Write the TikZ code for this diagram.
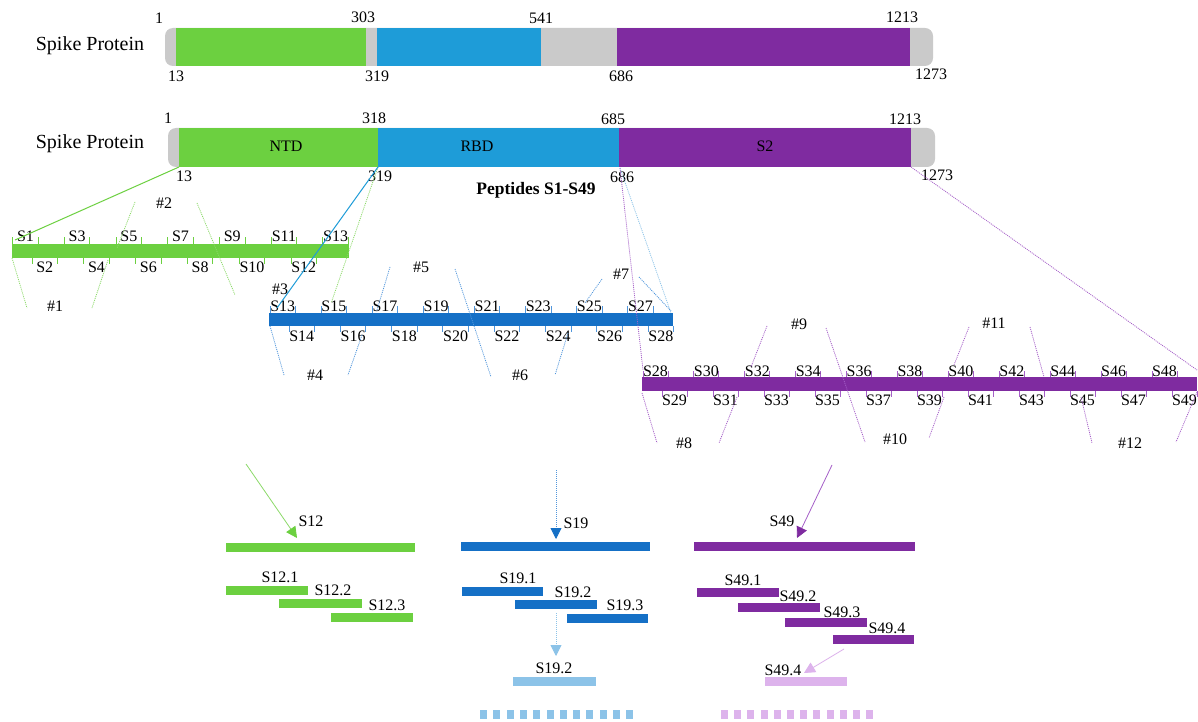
\documentclass[tikz,border=0pt]{standalone}
\usepackage{fontspec}
\setmainfont{Liberation Serif}
\usetikzlibrary{arrows.meta}
\definecolor{grn}{RGB}{108,208,64}
\definecolor{lgrn}{RGB}{140,218,105}
\definecolor{tblue}{RGB}{30,156,216}
\definecolor{pblue}{RGB}{21,112,198}
\definecolor{mblue}{RGB}{80,150,220}
\definecolor{purp}{RGB}{127,43,160}
\definecolor{mpurp}{RGB}{165,95,200}
\definecolor{gry}{RGB}{202,202,202}
\definecolor{lblue}{RGB}{140,195,232}
\definecolor{lpurp}{RGB}{221,179,236}
\begin{document}
\begin{tikzpicture}[x=1pt,y=-1pt,
  lbl/.style={inner sep=0pt,font=\fontsize{16}{16}\selectfont},
  big/.style={inner sep=0pt,font=\fontsize{20}{20}\selectfont},
  bar/.style={inner sep=0pt,anchor=north west,minimum height=#1},
  grp/.style={line width=0.8pt,dash pattern=on 1pt off 1pt},
  tk/.style={line width=0.9pt},
  tip/.style={-{Triangle[length=11pt,width=11pt,color=#1]}}
]
\useasboundingbox (0,0) rectangle (1198,722);
\fill[white] (0,0) rectangle (1198,722);

% ---------- top spike bar ----------
\fill[gry,rounded corners=8pt] (165,28) rectangle (933,66);
\fill[grn] (176,28) rectangle (366,66);
\fill[tblue] (377,28) rectangle (541,66);
\fill[purp] (617,28) rectangle (910,66);
\node[big] (sp1) at (90,46) {Spike Protein};
\node[lbl] (a1) at (159,18) {1};
\node[lbl] (a303) at (363,17) {303};
\node[lbl] (a541) at (541,18) {541};
\node[lbl] (a1213) at (902,17) {1213};
\node[lbl] (a13) at (176,76) {13};
\node[lbl] (a319) at (377,76) {319};
\node[lbl] (a686) at (621,76) {686};
\node[lbl] (a1273) at (931,74) {1273};

% ---------- second spike bar ----------
\fill[gry,rounded corners=8pt] (168,128) rectangle (935,167);
\fill[grn] (179,128) rectangle (378,167);
\fill[tblue] (378,128) rectangle (619,167);
\fill[purp] (619,128) rectangle (911,167);
\node[big] (sp2) at (90,144) {Spike Protein};
\node[lbl] (ntd) at (286,146) {NTD};
\node[lbl] (rbd) at (477,146) {RBD};
\node[lbl] (s2) at (765,146) {S2};
\node[lbl] (b1) at (168,118) {1};
\node[lbl] (b318) at (374,118) {318};
\node[lbl] (b685) at (613,119) {685};
\node[lbl] (b1213) at (905,119) {1213};
\node[lbl] (b13) at (184,176) {13};
\node[lbl] (b319) at (380,176) {319};
\node[lbl] (b686) at (622,177) {686};
\node[lbl] (b1273) at (937,175) {1273};
\node[inner sep=0pt,font=\fontsize{17.5}{18}\selectfont\bfseries] (pep) at (536,190) {Peptides S1-S49};

% ---------- peptide bars ----------
\node[bar=14pt,fill=grn,minimum width=337pt] (gbar) at (12,244) {};
\node[bar=13pt,fill=pblue,minimum width=404pt] (bbar) at (269,313) {};
\node[bar=14pt,fill=purp,minimum width=555pt] (pbar) at (642,377) {};

% green labels
\foreach \k in {0,...,6} {
  \pgfmathsetmacro\xl{12.7+51.7*\k}
  \pgfmathtruncatemacro\n{2*\k+1}
  \draw[tk,grn] (\xl,237) -- (\xl,244) (\xl+25.5,237) -- (\xl+25.5,244);
  \node[lbl] (gS\n) at (\xl+12.75,236) {S\n};
}
\foreach \k in {0,...,5} {
  \pgfmathsetmacro\xl{32+51.8*\k}
  \pgfmathtruncatemacro\n{2*\k+2}
  \draw[tk,grn] (\xl,258) -- (\xl,264) (\xl+25.5,258) -- (\xl+25.5,264);
  \node[lbl] (gS\n) at (\xl+12.75,267) {S\n};
}
% blue labels
\foreach \k in {0,...,7} {
  \pgfmathsetmacro\xl{270+51.1*\k}
  \pgfmathtruncatemacro\n{2*\k+13}
  \draw[tk,mblue] (\xl,306) -- (\xl,313) (\xl+25.5,306) -- (\xl+25.5,313);
  \node[lbl] (bS\n) at (\xl+12.75,306) {S\n};
}
\foreach \k in {0,...,7} {
  \pgfmathsetmacro\xl{289+51.3*\k}
  \pgfmathtruncatemacro\n{2*\k+14}
  \draw[tk,mblue] (\xl,326) -- (\xl,332) (\xl+25.5,326) -- (\xl+25.5,332);
  \node[lbl] (bS\n) at (\xl+12.75,336) {S\n};
}
% purple labels
\foreach \k in {0,...,10} {
  \pgfmathsetmacro\xl{643+50.9*\k}
  \pgfmathtruncatemacro\n{2*\k+28}
  \draw[tk,mpurp] (\xl,371) -- (\xl,377) (\xl+25,371) -- (\xl+25,377);
  \node[lbl] (pS\n) at (\xl+12.5,371) {S\n};
}
\foreach \k in {0,...,10} {
  \pgfmathsetmacro\xl{662+51*\k}
  \pgfmathtruncatemacro\n{2*\k+29}
  \draw[tk,mpurp] (\xl,391) -- (\xl,397) (\xl+25,391) -- (\xl+25,397);
  \node[lbl] (pS\n) at (\xl+12.5,400) {S\n};
}

% ---------- connectors from spike bar ----------
\coordinate (c13) at (179,167);
\coordinate (c319) at (378,167);
\coordinate (c686) at (620,168);
\coordinate (c1273) at (911,167);
\coordinate (eS1) at (15,240);
\coordinate (eS13b) at (277,308);
\coordinate (eS15) at (331.5,302);
\coordinate (eS28b) at (671,313);
\coordinate (eS28p) at (643,370);
\coordinate (eS49) at (1197,370);
\draw[grn,line width=1pt] (c13) -- (eS1);
\draw[lgrn,grp] (c319) -- (eS15);
\draw[tblue,line width=1pt] (c319) -- (eS13b);
\draw[lblue,grp] (c686) -- (eS28b);
\draw[mpurp,grp] (c686) -- (eS28p);
\draw[mpurp,grp] (c1273) -- (eS49);

% ---------- group brackets ----------
\foreach \a/\b/\c/\d in {12/258/27/308, 108/260/92/308, 135/202/117/248, 197/203/235/295}
  \draw[lgrn,grp] (\a,\b) -- (\c,\d);
\node[lbl] (h1) at (55,306) {\#1};
\node[lbl] (h2) at (164,203) {\#2};
\node[lbl] (h3) at (280,289) {\#3};

\foreach \a/\b/\c/\d in {270/326/284/375, 362/335/348/375, 390/267/377/310, 455/269/491/377, 568/333/555/375, 602/279/585/303, 639/277/671/311}
  \draw[mblue,grp] (\a,\b) -- (\c,\d);
\node[lbl] (h4) at (315,375) {\#4};
\node[lbl] (h5) at (421,267) {\#5};
\node[lbl] (h6) at (520,375) {\#6};
\node[lbl] (h7) at (621,274) {\#7};

\foreach \a/\b/\c/\d in {642/393/657/443, 737/397/719/443, 767/326/751/367, 826/328/865/442, 944/397/929/438, 969/327/954/365, 1030/327/1044/377, 1081/397/1092/443, 1197/392/1176/442}
  \draw[mpurp,grp] (\a,\b) -- (\c,\d);
\node[lbl] (h8) at (684,443) {\#8};
\node[lbl] (h9) at (799,324) {\#9};
\node[lbl] (h10) at (895,439) {\#10};
\node[lbl] (h11) at (994,323) {\#11};
\node[lbl] (h12) at (1130,443) {\#12};

% ---------- bottom: S12 ----------
\node[bar=9pt,fill=grn,minimum width=189pt] (g12) at (226,543) {};
\node[bar=9pt,fill=grn,minimum width=82pt] (g121) at (226,586) {};
\node[bar=9pt,fill=grn,minimum width=83pt] (g122) at (279,599) {};
\node[bar=9pt,fill=grn,minimum width=82pt] (g123) at (331,613) {};
\node[lbl] (t12) at (311,521) {S12};
\node[lbl] (t121) at (280,577) {S12.1};
\node[lbl] (t122) at (333,590) {S12.2};
\node[lbl] (t123) at (387,605) {S12.3};
\coordinate (g12s) at (246,464);
\coordinate (g12e) at (297,538);
\draw[lgrn,line width=0.8pt,tip=grn] (g12s) -- (g12e);

% ---------- bottom: S19 ----------
\node[bar=9pt,fill=pblue,minimum width=189pt] (b19) at (461,542) {};
\node[bar=9pt,fill=pblue,minimum width=81pt] (b191) at (462,587) {};
\node[bar=9pt,fill=pblue,minimum width=82pt] (b192) at (515,600) {};
\node[bar=9pt,fill=pblue,minimum width=81pt] (b193) at (567,614) {};
\node[lbl] (t19) at (576,523) {S19};
\node[lbl] (t191) at (518,578) {S19.1};
\node[lbl] (t192) at (573,592) {S19.2};
\node[lbl] (t193) at (625,605) {S19.3};
\coordinate (b19s) at (556,470);
\coordinate (b19e) at (556,539);
\draw[mblue,grp,tip=pblue] (b19s) -- (b19e);
\node[bar=9pt,fill=lblue,minimum width=83pt] (lb192) at (513,677) {};
\node[lbl] (tl192) at (554,668) {S19.2};
\coordinate (lbs) at (556,613);
\coordinate (lbe) at (556,656);
\draw[lblue,grp,tip=lblue] (lbs) -- (lbe);
\foreach \i in {0,...,11}
  \fill[lblue] (480+13.3*\i,710) rectangle ++(7,9);

% ---------- bottom: S49 ----------
\node[bar=9pt,fill=purp,minimum width=221pt] (p49) at (694,542) {};
\node[bar=9pt,fill=purp,minimum width=82pt] (p491) at (697,588) {};
\node[bar=9pt,fill=purp,minimum width=82pt] (p492) at (738,603) {};
\node[bar=9pt,fill=purp,minimum width=82pt] (p493) at (785,618) {};
\node[bar=9pt,fill=purp,minimum width=81pt] (p494) at (833,635) {};
\node[lbl] (t49) at (782,521) {S49};
\node[lbl] (t491) at (743,580) {S49.1};
\node[lbl] (t492) at (798,596) {S49.2};
\node[lbl] (t493) at (842,612) {S49.3};
\node[lbl] (t494) at (887,628) {S49.4};
\coordinate (p49s) at (832,465);
\coordinate (p49e) at (797,538);
\draw[mpurp,line width=0.8pt,tip=purp] (p49s) -- (p49e);
\node[bar=9pt,fill=lpurp,minimum width=82pt] (lp494) at (765,677) {};
\node[lbl] (tl494) at (783,670) {S49.4};
\coordinate (lps) at (844,649);
\coordinate (lpe) at (804,673);
\draw[lpurp,line width=0.8pt,tip=lpurp] (lps) -- (lpe);
\foreach \i in {0,...,11}
  \fill[lpurp] (721+13.2*\i,710) rectangle ++(7,9);
\end{tikzpicture}
\end{document}
